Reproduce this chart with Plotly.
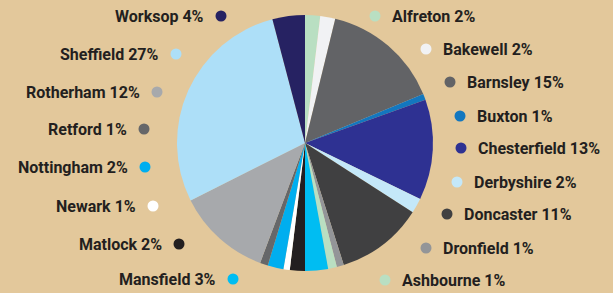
import plotly.graph_objects as go

# Data (clockwise from 12 o'clock)
towns = ["Alfreton", "Bakewell", "Barnsley", "Buxton", "Chesterfield", "Derbyshire",
         "Doncaster", "Dronfield", "Ashbourne", "Mansfield", "Matlock", "Newark",
         "Nottingham", "Retford", "Rotherham", "Sheffield", "Worksop"]
shares = [1.9, 1.9, 14.95, 0.75, 12.7, 1.9, 11.0, 0.9, 1.1, 2.9, 1.9, 0.8,
          2.0, 1.0, 11.9, 28.3, 4.1]
pct_labels = ["2%", "2%", "15%", "1%", "13%", "2%", "11%", "1%", "1%", "3%", "2%", "1%",
              "2%", "1%", "12%", "27%", "4%"]

colors = ["#b9dfc2", "#f1f2f4", "#626366", "#1377bf", "#2e3192", "#c4e8f9",
          "#404041", "#939598", "#b9dfc2", "#00bdf2", "#231f20", "#ffffff",
          "#00aeef", "#666769", "#a7a9ac", "#addff8", "#262262"]

# Label layout (pixel positions): dot x, y, side
dot_x = [375, 426, 450, 460, 461, 457, 447, 426, 385, 233, 179, 153, 145, 144, 157, 176, 221]
dot_y = [16, 49, 82, 116, 148, 182, 214, 248, 280, 279, 244, 206, 167, 129, 92, 54, 16]
side = ["R"] * 9 + ["L"] * 8

W, H = 613, 293
cx, cy, r = 305, 143, 128
BG = "#e3c89b"

fig = go.Figure()
fig.add_trace(go.Pie(
    labels=towns, values=shares, sort=False, direction="clockwise", rotation=0,
    marker=dict(colors=colors, line=dict(width=0)),
    textinfo="none", hoverinfo="skip", showlegend=False,
    domain=dict(x=[(cx - r) / W, (cx + r) / W], y=[(H - cy - r) / H, (H - cy + r) / H]),
))
fig.add_trace(go.Scatter(
    x=dot_x, y=dot_y, mode="markers",
    marker=dict(size=11, color=colors, line=dict(width=0)),
    hoverinfo="skip", showlegend=False,
))

anns = []
for t, p, x, y, s in zip(towns, pct_labels, dot_x, dot_y, side):
    right = s == "R"
    anns.append(dict(x=x + 15 if right else x - 15, y=y,
                     xanchor="left" if right else "right", yanchor="middle",
                     text=f"<b>{t} {p}</b>", showarrow=False,
                     font=dict(family="Roboto", size=16, color="#231f20")))

fig.update_layout(
    width=W, height=H, margin=dict(l=0, r=0, t=0, b=0),
    paper_bgcolor=BG, plot_bgcolor="rgba(0,0,0,0)",
    xaxis=dict(range=[0, W], visible=False, fixedrange=True),
    yaxis=dict(range=[H, 0], visible=False, fixedrange=True),
    annotations=anns,
)
fig.write_html(
    "out.html",
    config={"displayModeBar": False},
    post_script=f"document.body.style.margin='0';document.body.style.background='{BG}';",
)
